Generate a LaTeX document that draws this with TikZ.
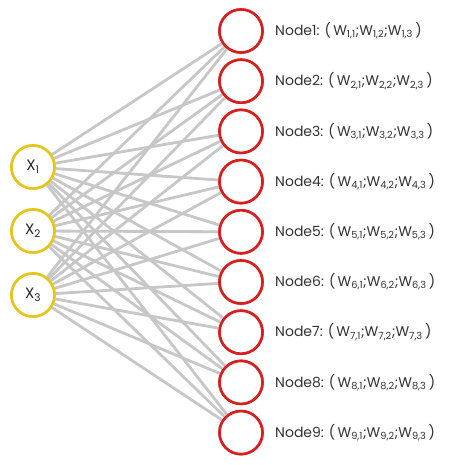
\documentclass[tikz,border=0pt]{standalone}
\usepackage{fontspec}
\setmainfont{Poppins}
\begin{document}
\begin{tikzpicture}[x=1pt,y=-1pt,
  inp/.style={circle,draw=ycol,fill=white,line width=2.6pt,minimum size=43pt,inner sep=0pt,font=\fontsize{15}{17}\selectfont,text=black!85},
  outn/.style={circle,draw=rcol,fill=white,line width=2.6pt,minimum size=43pt,inner sep=0pt},
  lab/.style={anchor=west,inner sep=0pt,font=\fontsize{14}{16}\selectfont,text=black!80},
  edge/.style={draw=black!22,line width=2.8pt}]
\definecolor{ycol}{HTML}{E6C619}
\definecolor{rcol}{HTML}{D71F1F}
\useasboundingbox (0,0) rectangle (476,465);
\fill[white] (0,0) rectangle (476,465);
\node[inp] (x1) at (33,167) {X\textsubscript{1}};
\node[inp] (x2) at (33,231) {X\textsubscript{2}};
\node[inp] (x3) at (33,295) {X\textsubscript{3}};
\foreach \i in {1,...,9}{
  \node[outn] (n\i) at (241,{31+50.2*(\i-1)}) {};
  \node[lab] (l\i) at (275,{31+50.2*(\i-1)}) {Node\i: (\,W\textsubscript{\i,1};W\textsubscript{\i,2};W\textsubscript{\i,3}\,)};
}
\foreach \j in {1,2,3}{
  \foreach \i in {1,...,9}{
    \draw[edge] (x\j) -- (n\i);
  }
}
\node[inp] at (x1) {X\textsubscript{1}};
\node[inp] at (x2) {X\textsubscript{2}};
\node[inp] at (x3) {X\textsubscript{3}};
\foreach \i in {1,...,9}{
  \node[outn] at (n\i) {};
}
\end{tikzpicture}
\end{document}
